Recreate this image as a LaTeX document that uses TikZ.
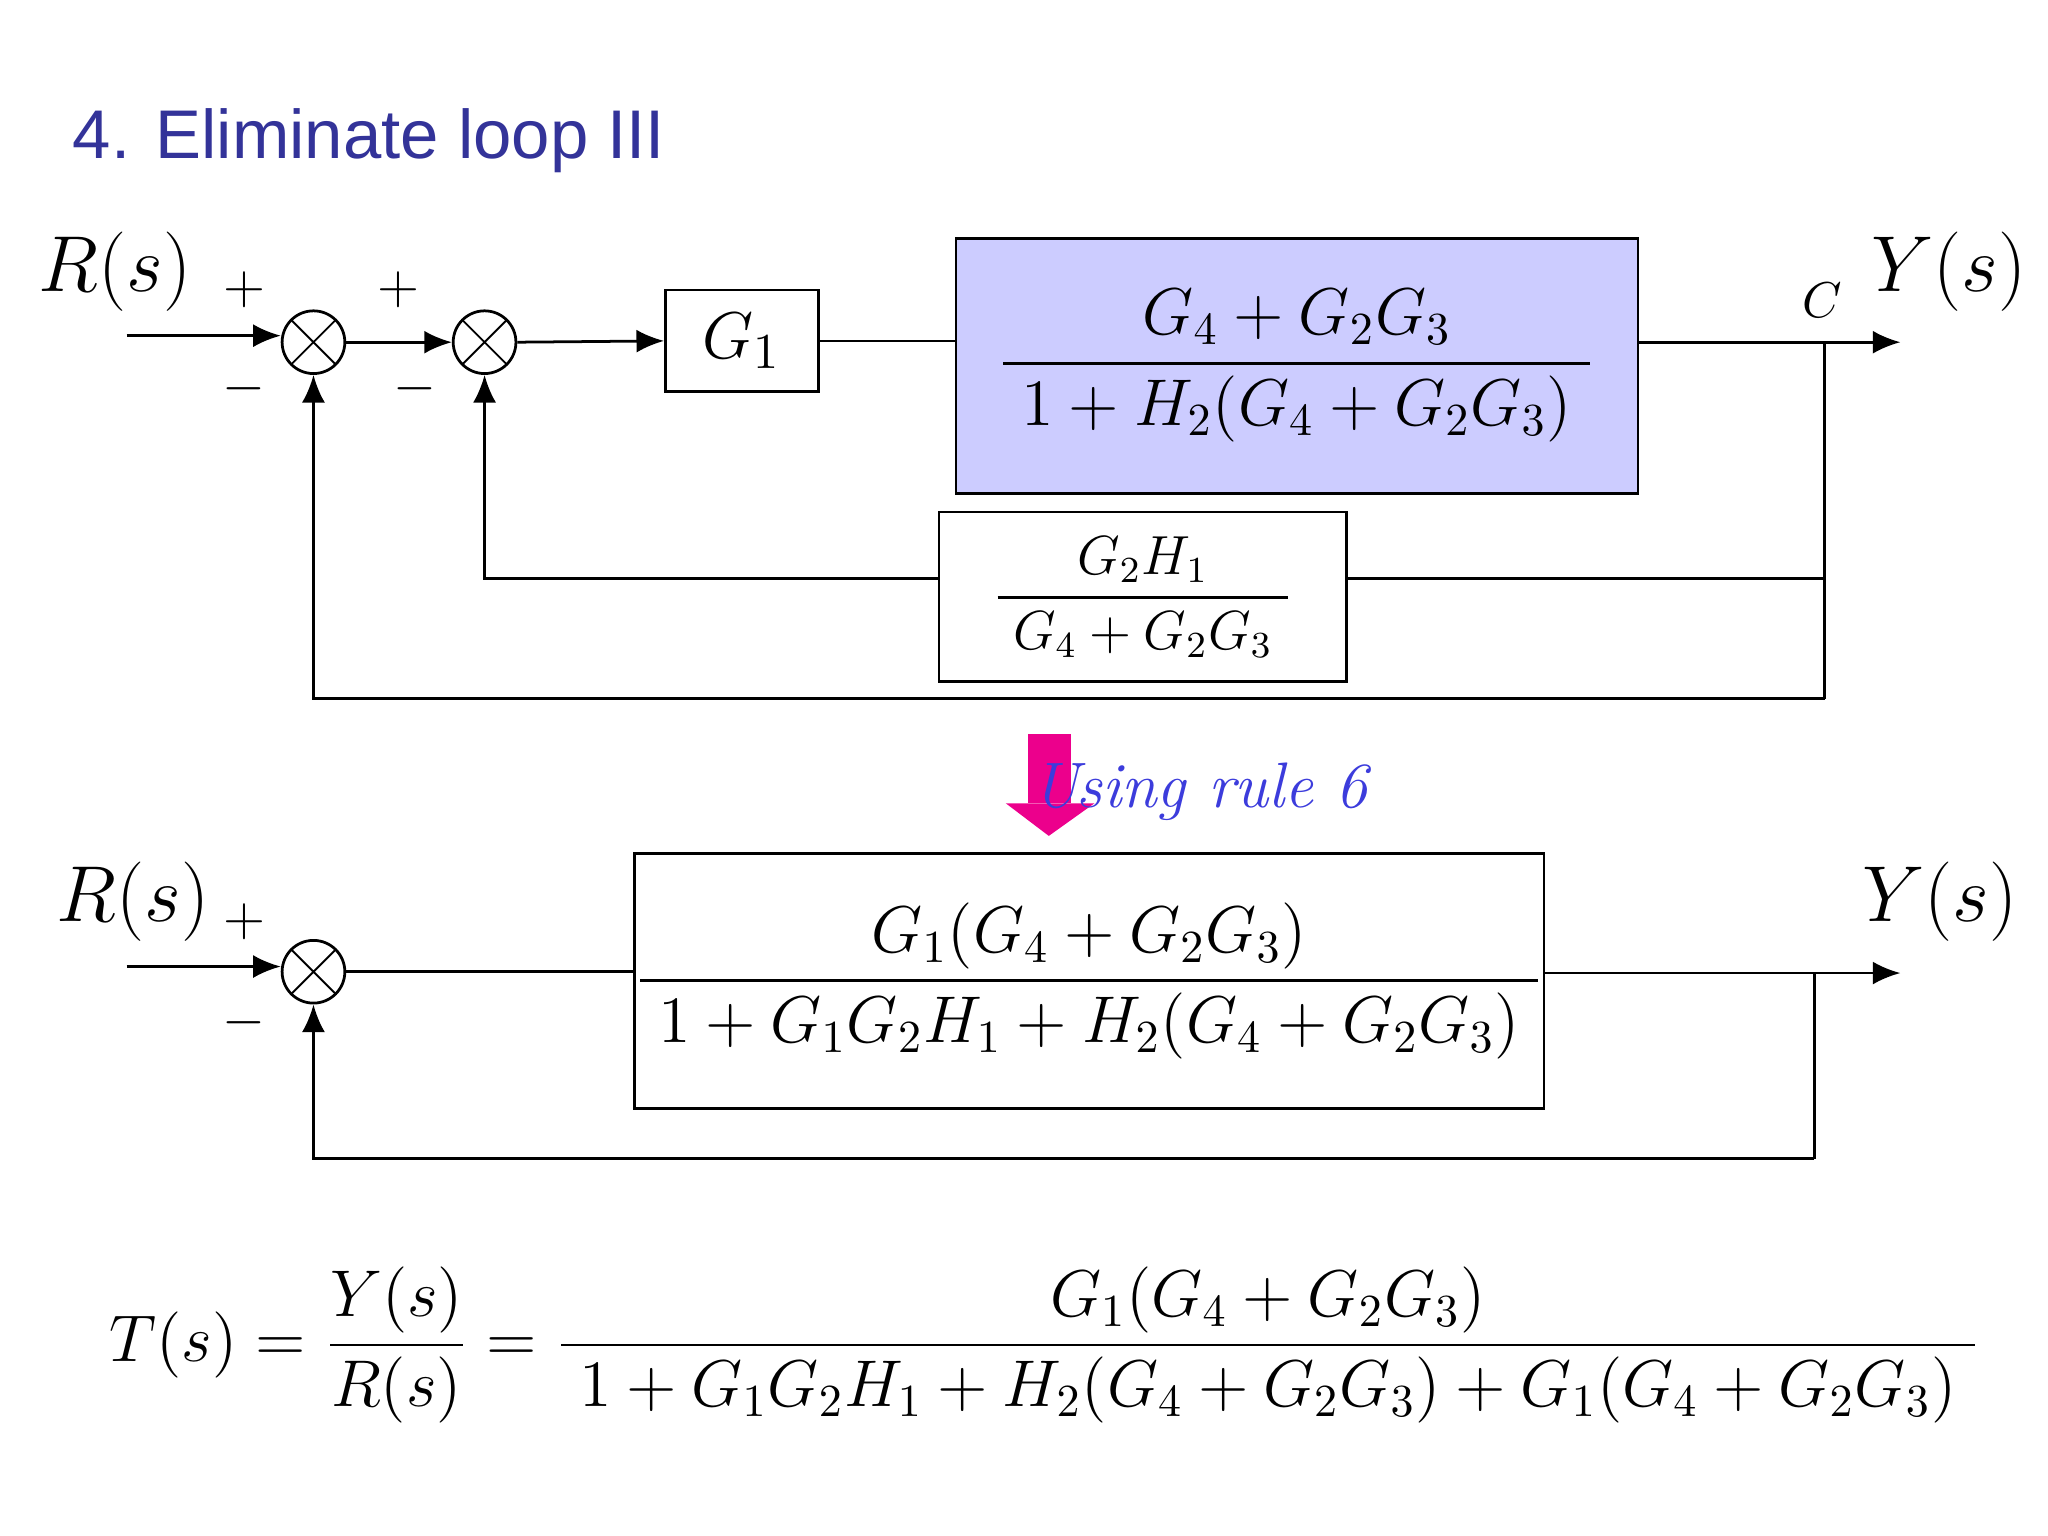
\documentclass[tikz,border=0pt]{standalone}
\usepackage{amsmath}
\usepackage{fontspec}
\newfontfamily\titlefont{Liberation Sans}
\usetikzlibrary{arrows.meta}
\definecolor{titleblue}{RGB}{51,51,153}
\definecolor{ruleblue}{RGB}{60,60,220}
\definecolor{boxfill}{RGB}{204,204,255}
\begin{document}
\begin{tikzpicture}[x=0.01cm,y=-0.01cm,
  blk/.style={draw,line width=0.6pt,inner sep=0pt},
  sumj/.style={draw,circle,line width=0.6pt,minimum size=0.48cm,inner sep=0pt,path picture={\draw[line width=0.4pt] (path picture bounding box.north west)--(path picture bounding box.south east) (path picture bounding box.north east)--(path picture bounding box.south west);}},
  sig/.style={line width=0.6pt},
  arr/.style={sig,-{Latex[length=6pt,width=5pt]}},
  lbl/.style={font=\fontsize{17}{20}\selectfont},
  sgn/.style={font=\fontsize{13}{16}\selectfont}]
\useasboundingbox (0,0) rectangle (1568,1176);
\node[anchor=west,text=titleblue,font=\titlefont\fontsize{15}{18}\selectfont,inner sep=0pt] (title) at (55,108) {4. Eliminate loop III};
% top diagram
\node[lbl] (R1) at (88,208) {$R(s)$};
\node[sgn] (p1) at (187,222) {$+$};
\node[sgn] (p2) at (305,222) {$+$};
\node[sgn] (m1) at (187,298) {$-$};
\node[sgn] (m2) at (318,298) {$-$};
\node[sumj] (s1) at (240,262) {};
\node[sumj] (s2) at (371,262) {};
\coordinate (in1) at (97,257);
\node[blk,minimum width=1.17cm,minimum height=0.78cm,font=\fontsize{15}{18}\selectfont] (g1) at (568,261) {$G_1$};
\node[blk,fill=boxfill,minimum width=5.22cm,minimum height=1.95cm,font=\fontsize{14}{18}\selectfont] (big) at (993,280) {$\dfrac{G_4+G_2G_3}{\;1+H_2(G_4+G_2G_3)\;}$};
\node[blk,minimum width=3.12cm,minimum height=1.30cm,font=\fontsize{11.5}{14}\selectfont] (fb) at (875,457) {$\dfrac{G_2H_1}{\;G_4+G_2G_3\;}$};
\coordinate (out1) at (1455,262);
\coordinate (b1) at (1397,262);
\coordinate (b1a) at (1397,443);
\coordinate (b1b) at (1397,535);
\node[font=\fontsize{11}{13}\selectfont] (C) at (1395,230) {$C$};
\node[lbl] (Y1) at (1492,208) {$Y(s)$};
\draw[arr] (in1) -- (s1.west|-in1);
\draw[arr] (s1.east) -- (s2.west);
\draw[arr] (s2.east) -- (g1.west);
\draw[sig] (g1.east) -- (big.west|-g1.east);
\draw[arr] (big.east|-out1) -- (out1);
\draw[sig] (b1) -- (b1b);
\draw[sig] (b1a) -- (fb.east|-b1a);
\draw[arr] (fb.west|-b1a) -| (s2.south);
\draw[arr] (b1b) -| (s1.south);
% transition
\fill[magenta] (787,562) rectangle (820,615);
\fill[magenta] (770,615) -- (838,615) -- (803,640) -- cycle;
\node[anchor=west,text=ruleblue,font=\fontsize{14}{17}\selectfont\itshape,inner sep=0pt] (rule) at (790,606) {Using rule 6};
% bottom diagram
\node[lbl] (R2) at (102,690) {$R(s)$};
\node[sgn] (p3) at (187,706) {$+$};
\node[sgn] (m3) at (187,783) {$-$};
\node[sumj] (s3) at (240,744) {};
\coordinate (in2) at (97,740);
\node[blk,minimum width=6.66cm,minimum height=1.95cm,font=\fontsize{14}{18}\selectfont] (big2) at (834,751) {$\dfrac{G_1(G_4+G_2G_3)}{\;1+G_1G_2H_1+H_2(G_4+G_2G_3)\;}$};
\coordinate (out2) at (1455,745);
\coordinate (b2) at (1389,745);
\coordinate (b2b) at (1389,887);
\node[lbl] (Y2) at (1485,690) {$Y(s)$};
\draw[arr] (in2) -- (s3.west|-in2);
\draw[sig] (s3.east) -- (big2.west|-s3.east);
\draw[arr] (big2.east|-out2) -- (out2);
\draw[sig] (b2) -- (b2b);
\draw[arr] (b2b) -| (s3.south);
% equation
\node[font=\fontsize{14}{18}\selectfont] (eq) at (800,1030) {$T(s)=\dfrac{Y(s)}{R(s)}=\dfrac{G_1(G_4+G_2G_3)}{\;1+G_1G_2H_1+H_2(G_4+G_2G_3)+G_1(G_4+G_2G_3)\;}$};
\end{tikzpicture}
\end{document}
